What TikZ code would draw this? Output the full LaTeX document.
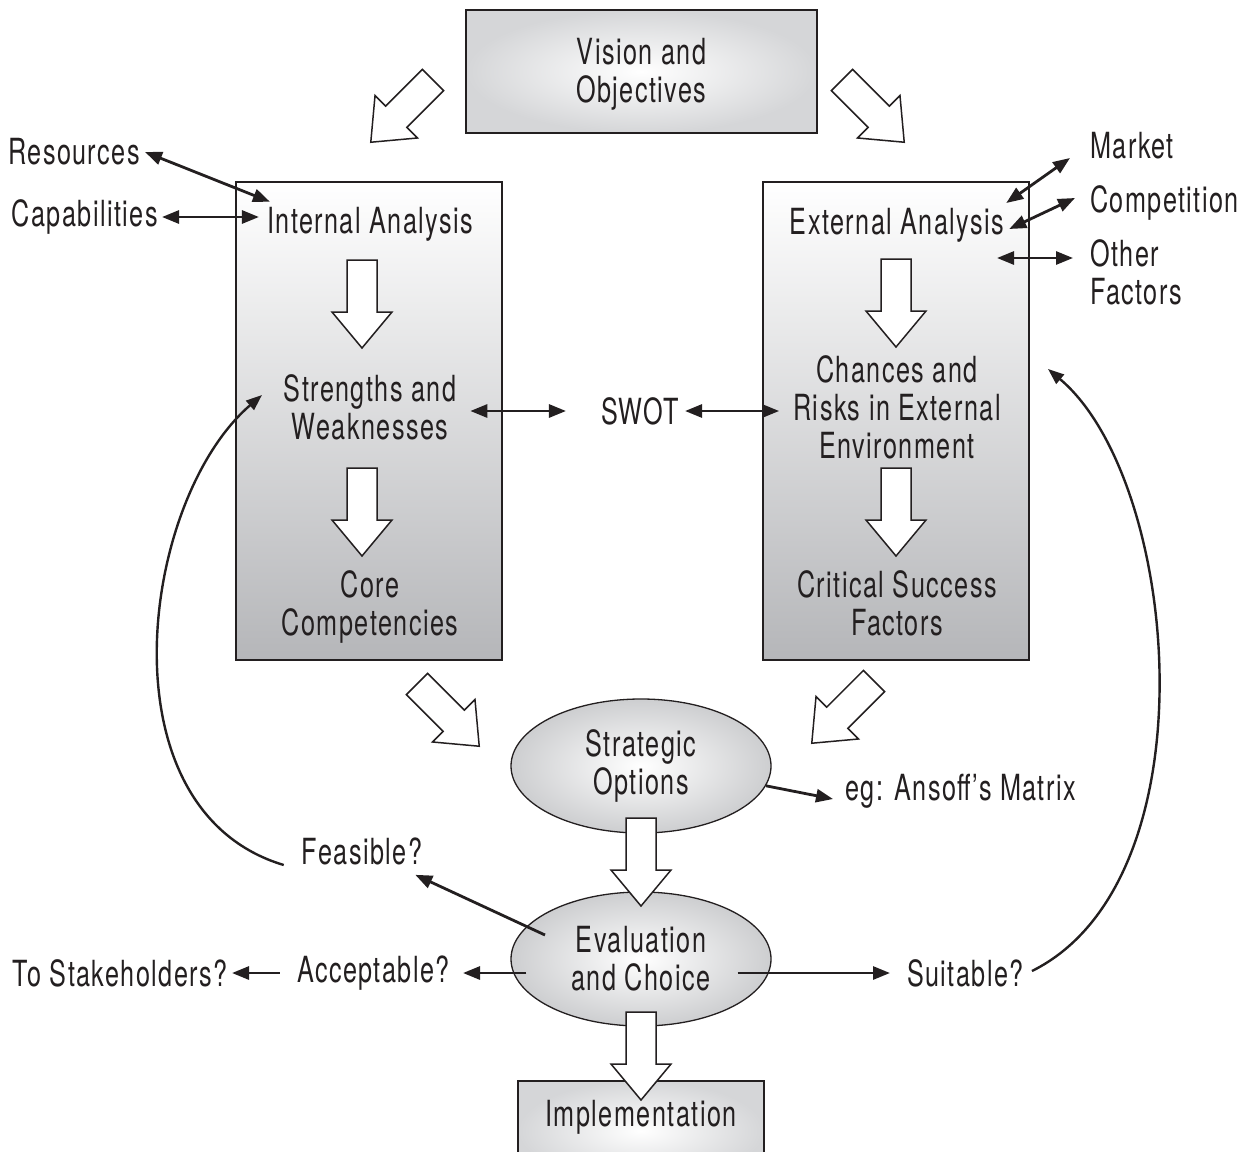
\documentclass[tikz,border=0pt]{standalone}
\usepackage{fontspec}
\setmainfont[FakeStretch=0.70,LetterSpace=4]{TeX Gyre Heros}
\usetikzlibrary{arrows.meta,shapes.geometric}

\definecolor{ink}{HTML}{231F20}
\definecolor{panelgray}{HTML}{B5B6B9}
\definecolor{softgray}{HTML}{D5D6D8}
\definecolor{ovalgray}{HTML}{CDCED0}

\tikzset{
  box/.style={draw=ink, line width=1.5pt, top color=white, bottom color=panelgray, inner sep=0pt},
  panel/.style={draw=ink, line width=1.5pt, inner color=white, outer color=softgray, inner sep=0pt},
  oval/.style={ellipse, draw=ink, line width=1.3pt, inner color=white, outer color=ovalgray,
    minimum width=260pt, minimum height=134pt, inner sep=0pt, align=center, text=ink},
  lbl/.style={text=ink, inner sep=0pt, align=center, yshift=-3pt},
  tip/.tip={Triangle[length=17pt,width=13pt]},
  dbl/.style={draw=ink, line width=2.8pt, {tip}-{tip}},
  sgl/.style={draw=ink, line width=2.8pt, -{tip}},
  curv/.style={draw=ink, line width=2.4pt, -{Triangle[length=16pt,width=12pt]}},
  blkline/.style={draw=ink, line width=1.5pt, fill=white, line join=miter},
  blk/.pic={\path[blkline] (0,-15) -- (52,-15) -- (52,-30) -- (88,0) -- (52,30) -- (52,15) -- (0,15) -- cycle;}
}

\begin{document}
\begin{tikzpicture}[x=1pt, y=-1pt, font=\fontsize{36}{38}\selectfont]
\useasboundingbox (0,0) rectangle (1257,1151);
\clip (0,0) rectangle (1257,1151);

% top goal box
\node[panel, minimum width=351pt, minimum height=123pt] (vision) at (641.5,71.5) {};
\node[lbl] (visiontext) at (641.5,71.5) {Vision and\\Objectives};

% analysis panels
\node[box, minimum width=266pt, minimum height=478pt] (intbox) at (369,421) {};
\node[box, minimum width=266pt, minimum height=478pt] (extbox) at (896,421) {};

\node[lbl] (int) at (370,221) {Internal Analysis};
\node[lbl] (sw) at (370,404) {Strengths and\\Weaknesses};
\node[lbl] (cc) at (370,604) {Core\\Competencies};

\node[lbl] (ext) at (897,222) {External Analysis};
\node[lbl] (cr) at (897,404) {Chances and\\Risks in External\\Environment};
\node[lbl] (csf) at (897,600) {Critical Success\\Factors};

\node[lbl] (swot) at (640,408) {SWOT};

% side inputs
\node[lbl, anchor=east] (res) at (140,149) {Resources};
\node[lbl, anchor=east] (cap) at (158,214) {Capabilities};
\node[lbl, anchor=west] (market) at (1090,143) {Market};
\node[lbl, anchor=west] (comp) at (1090,200) {Competition};
\node[lbl, anchor=west, align=left] (other) at (1090,269) {Other\\Factors};

% options and evaluation
\node[oval] (so) at (641,766) {Strategic\\Options};
\node[oval] (ec) at (641,959) {Evaluation\\and Choice};

\node[lbl, anchor=west] (ansoff) at (845,788) {eg: Ansoff’s Matrix};
\node[lbl] (feas) at (362,848) {Feasible?};
\node[lbl, anchor=east] (acc) at (450,970) {Acceptable?};
\node[lbl, anchor=east] (stake) at (228,970) {To Stakeholders?};
\node[lbl, anchor=west] (suit) at (907,970) {Suitable?};

% implementation box, running off the lower edge
\node[panel, minimum width=246pt, minimum height=100pt, anchor=north] (impl) at (641,1080) {};
\node[lbl] (impltext) at (641,1114) {Implementation};

% block arrows
\pic[rotate=-135] at (433,80) {blk};
\pic[rotate=-45] at (842,80) {blk};
\pic[rotate=-90] at (362,260) {blk};
\pic[rotate=-90] at (362,468) {blk};
\pic[rotate=-90] at (896,259) {blk};
\pic[rotate=-90] at (896,468) {blk};
\pic[rotate=-45] at (417,684) {blk};
\pic[rotate=-135] at (874,681) {blk};
\pic[rotate=-90] at (641,818) {blk};
\pic[rotate=-90] at (641,1012) {blk};

% two-way links
\draw[dbl] ([xshift=5pt]res.east) -- ([shift={(3,-5)}]int.north west);
\draw[dbl] ([xshift=4pt]cap.east) -- ([xshift=-8pt]cap.east -| int.west);
\draw[dbl] ([shift={(2,-22)}]ext.east) -- ([shift={(-20,12)}]market.west);
\draw[dbl] ([shift={(5,4)}]ext.east) -- ([shift={(-15,-5)}]comp.west);
\coordinate (otherend) at (997,258);
\draw[dbl] (otherend) -- ([shift={(-17,-14)}]other.west);
\draw[dbl] ([xshift=14pt]sw.east |- swot.west) -- ([xshift=-35pt]swot.west);
\draw[dbl] ([xshift=6pt]swot.east) -- ([xshift=-14pt]swot.east -| cr.west);

% one-way links
\draw[sgl] (so.-9) -- ([shift={(-12,8)}]ansoff.west);
\draw[sgl] ([shift={(-96,-24)}]ec.center) -- ([shift={(-7,10)}]feas.south east);
\draw[sgl] ([xshift=16pt]acc.east -| ec.west) -- ([xshift=13pt]acc.east);
\draw[sgl] ([xshift=-17pt]acc.west) -- ([xshift=4pt]stake.east);
\draw[sgl] ([xshift=-34pt]suit.west -| ec.east) -- ([xshift=-17pt]suit.west);

% feedback loops
\coordinate (swtarget) at (262,395);
\coordinate (crtarget) at (1048,369);
\draw[curv] ([shift={(-18,14)}]feas.west) .. controls (100,810) and (140,500) .. (swtarget);
\draw[curv] ([shift={(8,-2)}]suit.east) .. controls (1215,880) and (1180,480) .. (crtarget);
\end{tikzpicture}
\end{document}
